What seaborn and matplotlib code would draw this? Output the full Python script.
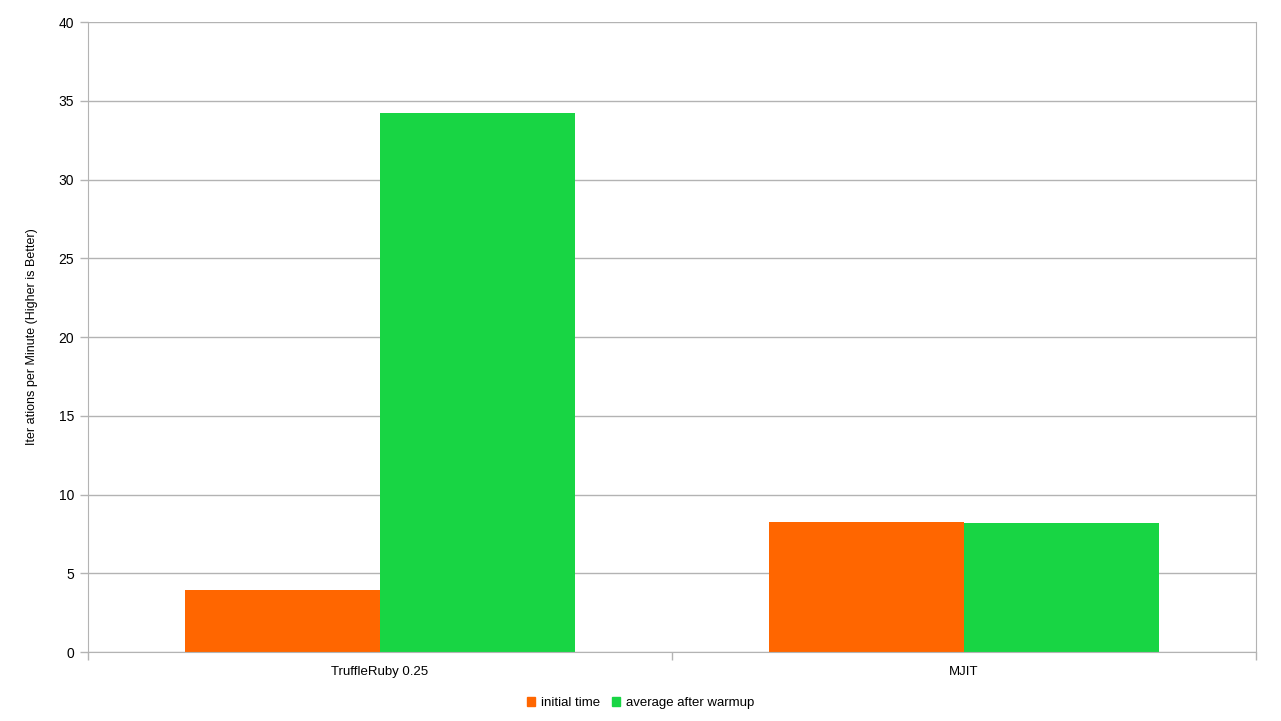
import matplotlib
matplotlib.use("Agg")
import matplotlib.pyplot as plt
import seaborn as sns
import pandas as pd

# Data
implementations = ["TruffleRuby 0.25", "MJIT"]
initial_time = [3.95, 8.27]
after_warmup = [34.25, 8.2]
series_names = ["initial time", "average after warmup"]
colors = ["#ff6600", "#18d544"]

df = pd.DataFrame({
    "impl": implementations * 2,
    "series": [series_names[0]] * 2 + [series_names[1]] * 2,
    "value": initial_time + after_warmup,
})

sns.set_style("white")
plt.rcParams["font.family"] = ["Liberation Sans", "DejaVu Sans"]
plt.rcParams["text.color"] = "black"
plt.rcParams["axes.labelcolor"] = "black"
plt.rcParams["xtick.labelcolor"] = "black"
plt.rcParams["ytick.labelcolor"] = "black"

fig = plt.figure(figsize=(12.81, 7.21), dpi=100)
ax = fig.add_axes([88 / 1281, 1 - 652 / 721, (1256 - 88) / 1281, (652 - 22) / 721])

sns.barplot(data=df, x="impl", y="value", hue="series", palette=colors,
            width=2 / 3, gap=0, saturation=1, ax=ax, legend=False,
            edgecolor="none", linewidth=0)

ax.set_xlim(-0.5, 1.5)
ax.set_ylim(0, 40)
ax.set_yticks(range(0, 41, 5))
ax.yaxis.grid(True, color="#b3b3b3", linewidth=1)
ax.set_axisbelow(True)

# category boundary ticks below, labels centred without ticks
ax.set_xticks([0, 1])
ax.set_xticklabels(implementations, fontsize=9.5)
ax.tick_params(axis="x", which="major", bottom=False, length=0, pad=10)
ax.set_xticks([-0.5, 0.5, 1.5], minor=True)
ax.tick_params(axis="x", which="minor", bottom=True, length=6, color="#b3b3b3", width=1)
ax.tick_params(axis="y", left=True, length=6, color="#b3b3b3", width=1, labelsize=10, pad=4)

for side in ["left", "bottom", "right"]:
    ax.spines[side].set_visible(True)
    ax.spines[side].set_color("#b3b3b3")
ax.spines["top"].set_visible(False)

ax.set_xlabel("")
ax.set_ylabel("Iter ations per Minute (Higher is Better)", fontsize=9, labelpad=15)

handles = [plt.Rectangle((0, 0), 1, 1, color=c) for c in colors]
fig.legend(handles, series_names, loc="center", bbox_to_anchor=(0.5, 1 - 703 / 721),
           ncol=2, frameon=False, fontsize=9.5, handlelength=0.6, handleheight=0.6,
           handletextpad=0.45, columnspacing=0.9)

fig.savefig("out.png", dpi=100)
